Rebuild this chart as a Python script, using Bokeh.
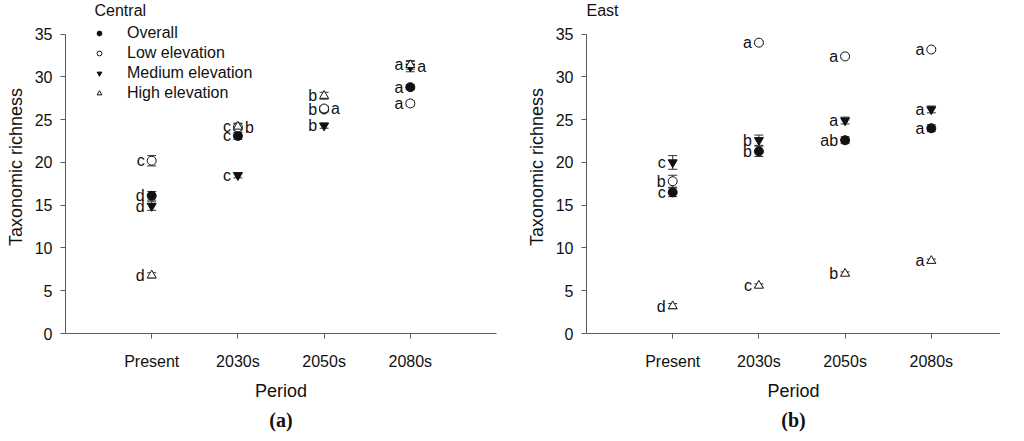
from bokeh.plotting import figure
from bokeh.layouts import row
from bokeh.models import (ColumnDataSource, Whisker, TeeHead, FixedTicker, Legend,
                          LegendItem, Label, Range1d, Title)
from bokeh.embed import file_html
from bokeh.resources import INLINE
from bokeh.core.properties import value

periods = ["Present", "2030s", "2050s", "2080s"]
yticks = [0, 5, 10, 15, 20, 25, 30, 35]
series_names = ["Overall", "Low elevation", "Medium elevation", "High elevation"]

# Central
central_overall = [16.1, 23.1, 26.2, 28.8]
central_low = [20.2, 24.1, 26.3, 26.9]
central_medium = [14.9, 18.5, 24.3, 31.2]
central_high = [6.8, 24.2, 27.8, 31.4]
central_overall_se = [0.5, 0.4, 0.3, 0.3]
central_low_se = [0.6, 0.4, 0.3, 0.3]
central_medium_se = [0.5, 0.3, 0.3, 0.6]
central_high_se = [0.3, 0.4, 0.4, 0.5]
central_overall_letters = ["d", "c", "b", "a"]
central_low_letters = ["c", "b", "a", "a"]
central_medium_letters = ["d", "c", "b", "a"]
central_high_letters = ["d", "c", "b", "a"]
central_low_side = ["L", "R", "R", "L"]
central_medium_side = ["L", "L", "L", "R"]

# East
east_overall = [16.5, 21.3, 22.6, 24.0]
east_low = [17.8, 34.0, 32.4, 33.2]
east_medium = [20.0, 22.6, 24.9, 26.2]
east_high = [3.2, 5.6, 7.0, 8.5]
east_overall_se = [0.5, 0.6, 0.4, 0.4]
east_low_se = [0.7, 0.2, 0.2, 0.2]
east_medium_se = [0.8, 0.6, 0.4, 0.4]
east_high_se = [0.3, 0.2, 0.2, 0.2]
east_overall_letters = ["c", "b", "ab", "a"]
east_low_letters = ["b", "a", "a", "a"]
east_medium_letters = ["c", "b", "a", "a"]
east_high_letters = ["d", "c", "b", "a"]

FONT = "Liberation Sans"
AXIS_COLOR = "#5a5a5a"
INK = "#111111"
PX_PER_UNIT = 8.63
FRAME_H = 336
BOTTOM = 97

MARKERS = [("circle", INK), ("circle", "white"), ("inverted_triangle", INK), ("triangle", "white")]


def make_panel(region, region_x, region_units, caption, series, ses, letters, sides, width,
               border_left, border_right, x_end, with_legend):
    p = figure(width=width, height=FRAME_H + BOTTOM, output_backend="svg",
               toolbar_location=None,
               x_range=Range1d(0, x_end), y_range=Range1d(0, FRAME_H / PX_PER_UNIT),
               min_border_left=border_left, min_border_right=border_right,
               min_border_top=0, min_border_bottom=BOTTOM)
    p.outline_line_color = None
    p.grid.visible = False
    p.background_fill_color = "white"
    p.border_fill_color = "white"

    xs = list(range(1, len(periods) + 1))
    p.xaxis.ticker = FixedTicker(ticks=xs)
    p.xaxis.major_label_overrides = {x: lbl for x, lbl in zip(xs, periods)}
    p.yaxis.ticker = FixedTicker(ticks=yticks)
    p.yaxis.bounds = (yticks[0], yticks[-1])
    for ax in (p.xaxis[0], p.yaxis[0]):
        ax.axis_line_color = AXIS_COLOR
        ax.major_tick_line_color = AXIS_COLOR
        ax.minor_tick_line_color = None
        ax.major_tick_out = 5
        ax.major_tick_in = 0
        ax.major_label_text_font = FONT
        ax.major_label_text_font_size = "16px"
        ax.major_label_text_color = INK
        ax.axis_label_text_font = FONT
        ax.axis_label_text_font_size = "18px"
        ax.axis_label_text_font_style = "normal"
        ax.axis_label_text_color = INK
    p.xaxis.axis_label = "Period"
    p.xaxis.major_label_standoff = 14
    p.xaxis.axis_label_standoff = 8
    p.yaxis.axis_label = "Taxonomic richness"
    p.yaxis.major_label_standoff = 8
    p.yaxis.axis_label_standoff = 6

    renderers = []
    for (marker, fill), vals, se, lets, side in zip(MARKERS, series, ses, letters, sides):
        src = ColumnDataSource(dict(
            x=xs, y=vals,
            upper=[v + s for v, s in zip(vals, se)],
            lower=[v - s for v, s in zip(vals, se)],
        ))
        w = Whisker(source=src, base="x", upper="upper", lower="lower", dimension="height",
                    line_color="#333333", line_width=1,
                    upper_head=TeeHead(size=9, line_color="#333333", line_width=1),
                    lower_head=TeeHead(size=9, line_color="#333333", line_width=1))
        p.add_layout(w)
        r = p.scatter("x", "y", source=src, marker=marker, size=9, fill_color=fill,
                      line_color=INK, line_width=1)
        renderers.append(r)
        for s_key, off, align in (("L", -7, "right"), ("R", 7, "left")):
            idx = [i for i in range(len(xs)) if side[i] == s_key]
            if not idx:
                continue
            tsrc = ColumnDataSource(dict(x=[xs[i] for i in idx], y=[vals[i] for i in idx],
                                         t=[lets[i] for i in idx]))
            p.text("x", "y", text="t", source=tsrc, x_offset=off, text_align=align,
                   text_baseline="middle", text_font=value(FONT), text_font_size="16px",
                   text_color=INK)

    p.add_layout(Label(x=region_x, y=FRAME_H - 13, x_units=region_units, y_units="screen",
                       text=region, text_font=FONT, text_font_size="16px",
                       text_baseline="middle", text_color=INK))
    p.add_layout(Title(text=caption, align="center", text_font="Liberation Serif",
                       text_font_size="20px", text_font_style="bold", text_color=INK,
                       standoff=6), "below")

    if with_legend:
        legend = Legend(items=[LegendItem(label=n, renderers=[r])
                               for n, r in zip(series_names, renderers)],
                        location=(28, 230), orientation="vertical",
                        glyph_width=12, glyph_height=20, label_height=20, spacing=0,
                        label_standoff=22, padding=0, margin=0,
                        label_text_font=FONT, label_text_font_size="16px",
                        label_text_color=INK, border_line_color=None,
                        background_fill_alpha=0)
        p.add_layout(legend)
    return p


left = make_panel("Central", 29, "screen", "(a)",
                  [central_overall, central_low, central_medium, central_high],
                  [central_overall_se, central_low_se, central_medium_se, central_high_se],
                  [central_overall_letters, central_low_letters, central_medium_letters,
                   central_high_letters],
                  [["L"] * 4, central_low_side, central_medium_side, ["L"] * 4],
                  510, 65, 14, 5.0, True)
right = make_panel("East", 0, "data", "(b)",
                   [east_overall, east_low, east_medium, east_high],
                   [east_overall_se, east_low_se, east_medium_se, east_high_se],
                   [east_overall_letters, east_low_letters, east_medium_letters,
                    east_high_letters],
                   [["L"] * 4] * 4,
                   490, 76, 0, 414 / 86.2, False)

layout = row(left, right, spacing=0)
open("out.html", "w").write(file_html(layout, INLINE))
